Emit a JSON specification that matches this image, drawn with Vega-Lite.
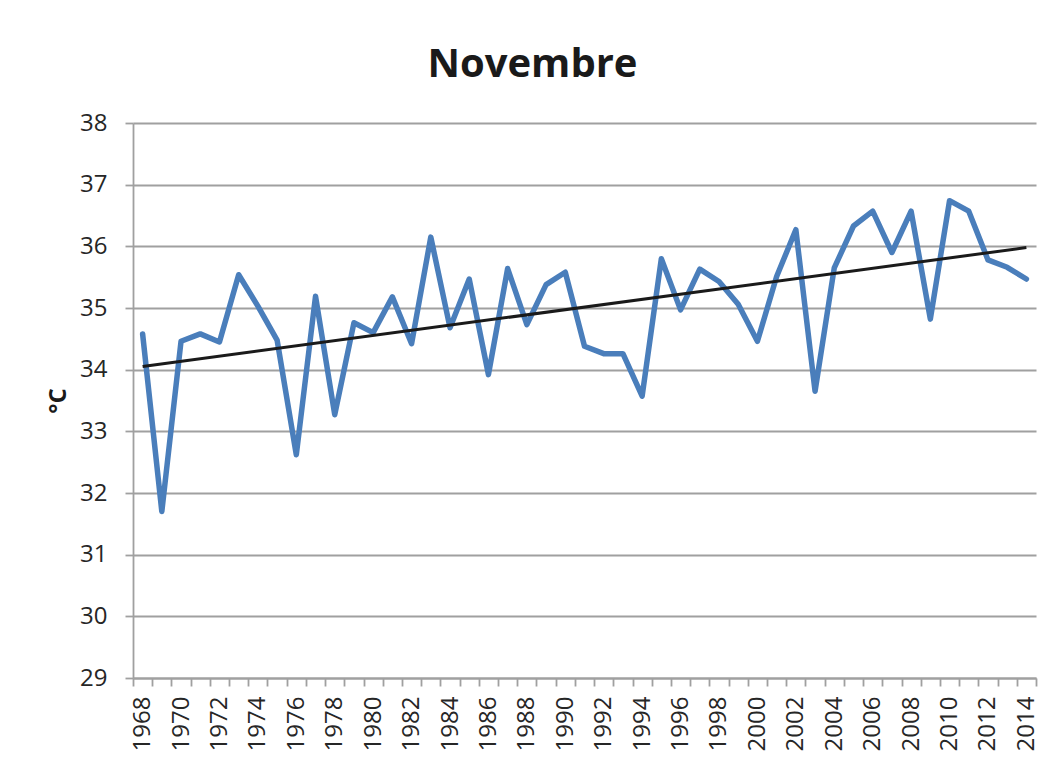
{
  "$schema": "https://vega.github.io/schema/vega-lite/v6.json",
  "width": 903,
  "height": 555,
  "autosize": {"type": "none"},
  "padding": {"left": 133, "top": 123, "right": 15, "bottom": 82},
  "background": "white",
  "title": {
    "text": "Novembre",
    "font": "Open Sans",
    "fontSize": 40,
    "fontWeight": "bold",
    "color": "#1a1a1a",
    "anchor": "middle",
    "frame": "bounds",
    "offset": 26,
    "dx": -10
  },
  "datasets": {
    "temps": [
      {"year": 1968, "temp": 34.58}, {"year": 1969, "temp": 31.7}, {"year": 1970, "temp": 34.46},
      {"year": 1971, "temp": 34.58}, {"year": 1972, "temp": 34.45}, {"year": 1973, "temp": 35.54},
      {"year": 1974, "temp": 35.03}, {"year": 1975, "temp": 34.48}, {"year": 1976, "temp": 32.62},
      {"year": 1977, "temp": 35.19}, {"year": 1978, "temp": 33.27}, {"year": 1979, "temp": 34.76},
      {"year": 1980, "temp": 34.6}, {"year": 1981, "temp": 35.18}, {"year": 1982, "temp": 34.42},
      {"year": 1983, "temp": 36.15}, {"year": 1984, "temp": 34.68}, {"year": 1985, "temp": 35.47},
      {"year": 1986, "temp": 33.92}, {"year": 1987, "temp": 35.64}, {"year": 1988, "temp": 34.73},
      {"year": 1989, "temp": 35.38}, {"year": 1990, "temp": 35.58}, {"year": 1991, "temp": 34.38},
      {"year": 1992, "temp": 34.26}, {"year": 1993, "temp": 34.26}, {"year": 1994, "temp": 33.57},
      {"year": 1995, "temp": 35.8}, {"year": 1996, "temp": 34.97}, {"year": 1997, "temp": 35.63},
      {"year": 1998, "temp": 35.43}, {"year": 1999, "temp": 35.06}, {"year": 2000, "temp": 34.46},
      {"year": 2001, "temp": 35.51}, {"year": 2002, "temp": 36.27}, {"year": 2003, "temp": 33.65},
      {"year": 2004, "temp": 35.65}, {"year": 2005, "temp": 36.33}, {"year": 2006, "temp": 36.57},
      {"year": 2007, "temp": 35.9}, {"year": 2008, "temp": 36.57}, {"year": 2009, "temp": 34.82},
      {"year": 2010, "temp": 36.74}, {"year": 2011, "temp": 36.57}, {"year": 2012, "temp": 35.78},
      {"year": 2013, "temp": 35.66}, {"year": 2014, "temp": 35.47}
    ],
    "trend": [
      {"year": 1968, "temp": 34.05},
      {"year": 2014, "temp": 35.98}
    ]
  },
  "layer": [
    {
      "data": {"name": "temps"},
      "mark": {"type": "line", "color": "#4A7EBB", "strokeWidth": 5.5, "strokeJoin": "round", "strokeCap": "round"},
      "encoding": {
        "x": {
          "field": "year",
          "type": "ordinal",
          "bandPosition": 0.5,
          "scale": {"type": "band", "paddingInner": 0, "paddingOuter": 0},
          "axis": {
            "title": null,
            "labelAngle": -90,
            "labelExpr": "datum.value % 2 == 0 ? datum.label : ''",
            "labelOverlap": false,
            "tickBand": "extent",
            "tickSize": 8,
            "labelPadding": 10,
            "grid": false
          }
        },
        "y": {
          "field": "temp",
          "type": "quantitative",
          "scale": {"domain": [29, 38], "nice": false, "zero": false},
          "axis": {
            "title": "°C",
            "format": "d",
            "values": [29, 30, 31, 32, 33, 34, 35, 36, 37, 38],
            "tickSize": 8,
            "labelPadding": 18,
            "titlePadding": 9,
            "grid": true
          }
        }
      }
    },
    {
      "data": {"name": "trend"},
      "mark": {"type": "line", "color": "#1a1a1a", "strokeWidth": 3},
      "encoding": {
        "x": {"field": "year", "type": "ordinal", "bandPosition": 0.5},
        "y": {"field": "temp", "type": "quantitative"}
      }
    }
  ],
  "config": {
    "view": {"stroke": null},
    "axis": {
      "domainColor": "#A0A0A0",
      "domainWidth": 1.8,
      "tickColor": "#A0A0A0",
      "tickWidth": 1.8,
      "gridColor": "#A0A0A0",
      "gridWidth": 1.8,
      "labelFont": "Open Sans",
      "labelFontSize": 24,
      "labelColor": "#262626",
      "titleFont": "Open Sans",
      "titleFontSize": 24,
      "titleFontWeight": "bold",
      "titleColor": "#1a1a1a"
    }
  }
}
